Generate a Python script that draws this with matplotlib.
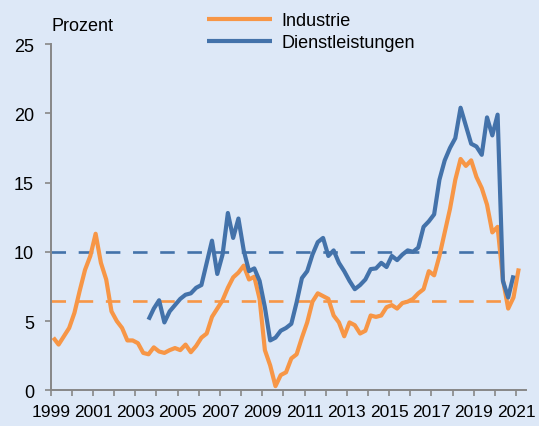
import matplotlib
matplotlib.use("Agg")
import matplotlib.pyplot as plt
import numpy as np
import pandas as pd

plt.rcParams['font.family'] = ['Liberation Sans', 'DejaVu Sans']

# quarterly data, 1999Q1 .. 2021Q1
quarters = pd.period_range('1999Q1', '2021Q1', freq='Q')

industrie = [3.8, 3.3, 3.9, 4.5, 5.6, 7.2, 8.7, 9.7, 11.3, 9.2,
             8.0, 5.7, 5.0, 4.5, 3.6, 3.6, 3.4, 2.7, 2.6, 3.1,
             2.8, 2.7, 2.9, 3.05, 2.9, 3.3, 2.75, 3.2, 3.8, 4.1,
             5.3, 5.9, 6.5, 7.4, 8.15, 8.5, 9.0, 8.0, 8.2, 6.6,
             2.9, 1.8, 0.3, 1.1, 1.3, 2.3, 2.6, 3.8, 4.9, 6.4,
             7.0, 6.8, 6.6, 5.4, 4.9, 3.9, 4.9, 4.7, 4.1, 4.3,
             5.4, 5.3, 5.4, 6.0, 6.15, 5.9, 6.3, 6.4, 6.6, 7.0,
             7.3, 8.6, 8.3, 9.7, 11.4, 13.1, 15.2, 16.7, 16.2, 16.6,
             15.4, 14.6, 13.4, 11.4, 11.8, 8.0, 5.9, 6.7, 8.8]

# services start 2003Q3, end 2020Q4
dienst_start = '2003Q3'
dienstleistungen = [5.1, 5.9, 6.5, 4.9, 5.7, 6.15, 6.6, 6.9, 7.0, 7.4,
                    7.6, 9.2, 10.8, 8.4, 9.8, 12.8, 11.0, 12.4, 10.1, 8.6,
                    8.8, 7.9, 6.0, 3.6, 3.8, 4.3, 4.5, 4.8, 6.35, 8.1,
                    8.6, 9.8, 10.7, 11.0, 9.7, 10.1, 9.2, 8.6, 7.9, 7.3,
                    7.6, 8.0, 8.75, 8.8, 9.2, 8.9, 9.7, 9.4, 9.8, 10.1,
                    10.0, 10.3, 11.8, 12.2, 12.7, 15.2, 16.6, 17.5, 18.2, 20.4,
                    19.1, 17.8, 17.6, 17.0, 19.7, 18.4, 19.9, 7.9, 6.7, 8.3]

mean_industrie = 6.45
mean_dienst = 10.0

labels = ['Industrie', 'Dienstleistungen']
ylabel = 'Prozent'
year_ticks = list(range(1999, 2022))

# positions: middle month of each quarter
def qpos(p):
    return p.year + (p.quarter - 1) / 4 + 0.125

x_ind = np.array([qpos(p) for p in quarters])
d_idx = pd.period_range(dienst_start, periods=len(dienstleistungen), freq='Q')
x_dl = np.array([qpos(p) for p in d_idx])

ORANGE = '#F79646'
BLUE = '#4372AA'
BG = '#DDE8F7'
GRAY = '#878787'

fig = plt.figure(figsize=(5.39, 4.27), dpi=100, facecolor=BG)
ax = fig.add_axes([0.094, 0.0836, 0.882, 0.811], facecolor=BG)

ax.plot([x_ind[0] - 0.1, x_dl[-1]], [mean_dienst, mean_dienst], color=BLUE,
        lw=1.9, dashes=(5.5, 4.8))
ax.plot([x_ind[0] - 0.1, x_dl[-1] - 0.2], [mean_industrie, mean_industrie], color=ORANGE,
        lw=1.9, dashes=(5.5, 4.8))

l1, = ax.plot(x_ind, industrie, color=ORANGE, lw=3.0, solid_joinstyle='round',
              solid_capstyle='butt', label=labels[0])
l2, = ax.plot(x_dl, dienstleistungen, color=BLUE, lw=3.0, solid_joinstyle='round',
              solid_capstyle='butt', label=labels[1])

ax.set_xlim(1999, 2021.47)
ax.set_ylim(0, 25)
ax.set_yticks([0, 5, 10, 15, 20, 25])
ax.set_xticks(year_ticks)
ax.set_xticklabels([str(y) if (y - 1999) % 2 == 0 else '' for y in year_ticks],
                   fontfamily=['Liberation Sans Narrow', 'Liberation Sans'], fontsize=12.5)
for s in ['top', 'right']:
    ax.spines[s].set_visible(False)
for s in ['left', 'bottom']:
    ax.spines[s].set_color(GRAY)
    ax.spines[s].set_linewidth(1.4)
ax.tick_params(axis='y', direction='out', length=4, width=1.2, color=GRAY,
               labelsize=13, pad=8)
ax.tick_params(axis='x', direction='out', length=4, width=1.2, color=GRAY,
               pad=6)

fig.text(51.7 / 539, 1 - 30.7 / 427, ylabel, fontsize=13, ha='left', va='baseline')

fig.legend(handles=[l1, l2], labels=labels, loc='upper left',
           bbox_to_anchor=(206.7 / 539, 1 - 13 / 427), frameon=False,
           fontsize=13, handlelength=3.6, handletextpad=0.55, labelspacing=0.28,
           borderpad=0, borderaxespad=0)

fig.savefig('out.png', dpi=100, facecolor=BG)
